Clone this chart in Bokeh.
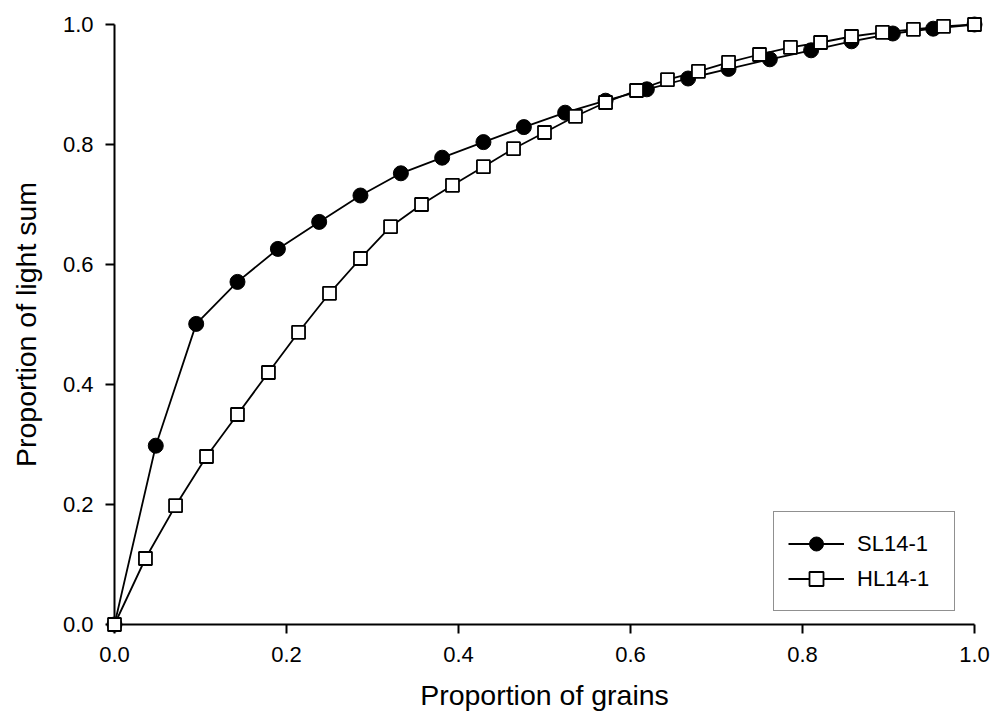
from bokeh.plotting import figure
from bokeh.models import Range1d, FixedTicker, PrintfTickFormatter, Legend, LegendItem
from bokeh.embed import file_html
from bokeh.resources import INLINE

# ---- data ----
sl_x = [0.0, 0.048, 0.095, 0.143, 0.190, 0.238, 0.286, 0.333, 0.381, 0.429, 0.476,
        0.524, 0.571, 0.619, 0.667, 0.714, 0.762, 0.810, 0.857, 0.905, 0.952, 1.0]
sl_y = [0.0, 0.298, 0.501, 0.571, 0.626, 0.671, 0.715, 0.752, 0.778, 0.804, 0.829,
        0.853, 0.873, 0.892, 0.910, 0.926, 0.942, 0.957, 0.972, 0.985, 0.993, 1.0]

hl_x = [0.0, 0.036, 0.071, 0.107, 0.143, 0.179, 0.214, 0.250, 0.286, 0.321, 0.357,
        0.393, 0.429, 0.464, 0.500, 0.536, 0.571, 0.607, 0.643, 0.679, 0.714, 0.750,
        0.786, 0.821, 0.857, 0.893, 0.929, 0.964, 1.0]
hl_y = [0.0, 0.110, 0.198, 0.280, 0.350, 0.420, 0.487, 0.552, 0.610, 0.663, 0.700,
        0.732, 0.763, 0.793, 0.820, 0.847, 0.870, 0.890, 0.908, 0.922, 0.937, 0.950,
        0.962, 0.970, 0.980, 0.987, 0.992, 0.997, 1.0]

series_labels = ["SL14-1", "HL14-1"]
tick_values = [0.0, 0.2, 0.4, 0.6, 0.8, 1.0]
x_title = "Proportion of grains"
y_title = "Proportion of light sum"

FONT = "Liberation Sans"

p = figure(width=995, height=726, output_backend="svg", toolbar_location=None,
           x_range=Range1d(0, 1), y_range=Range1d(0, 1),
           min_border_left=114, min_border_right=21, min_border_top=24,
           min_border_bottom=102)
p.outline_line_color = None
p.grid.visible = False
p.background_fill_color = "white"
p.border_fill_color = "white"

l1 = p.line(sl_x, sl_y, line_color="black", line_width=1.8, level="overlay")
s1 = p.scatter(sl_x, sl_y, marker="circle", size=15, fill_color="black",
               line_color="black", line_width=1, level="overlay")
l2 = p.line(hl_x, hl_y, line_color="black", line_width=1.8, level="overlay")
s2 = p.scatter(hl_x, hl_y, marker="square", size=13, fill_color="white",
               line_color="black", line_width=1.8, level="overlay")

for ax in (p.xaxis[0], p.yaxis[0]):
    ax.ticker = FixedTicker(ticks=tick_values)
    ax.formatter = PrintfTickFormatter(format="%.1f")
    ax.axis_line_width = 2
    ax.major_tick_line_width = 2
    ax.major_tick_out = 9
    ax.major_tick_in = 0
    ax.minor_tick_out = 0
    ax.minor_tick_in = 0
    ax.major_label_text_font = FONT
    ax.major_label_text_font_size = "22px"
    ax.major_label_text_color = "black"
    ax.axis_label_text_font = FONT
    ax.axis_label_text_font_size = "28.5px"
    ax.axis_label_text_font_style = "normal"
    ax.axis_label_text_color = "black"

p.xaxis[0].axis_label = x_title
p.yaxis[0].axis_label = y_title
p.xaxis[0].major_label_standoff = 13
p.yaxis[0].major_label_standoff = 12
p.xaxis[0].axis_label_standoff = 14
p.yaxis[0].axis_label_standoff = 18

legend = Legend(items=[LegendItem(label=series_labels[0], renderers=[l1, s1]),
                       LegendItem(label=series_labels[1], renderers=[l2, s2])],
                location=(659, 13), margin=0, padding=14, spacing=-5,
                glyph_width=56, glyph_height=35, label_standoff=13, label_width=83,
                label_text_font=FONT, label_text_font_size="22px",
                label_text_color="black",
                border_line_color="#222222", border_line_width=1.5,
                background_fill_color="white", background_fill_alpha=1)
p.add_layout(legend)

open("out.html", "w").write(file_html(p, INLINE))
